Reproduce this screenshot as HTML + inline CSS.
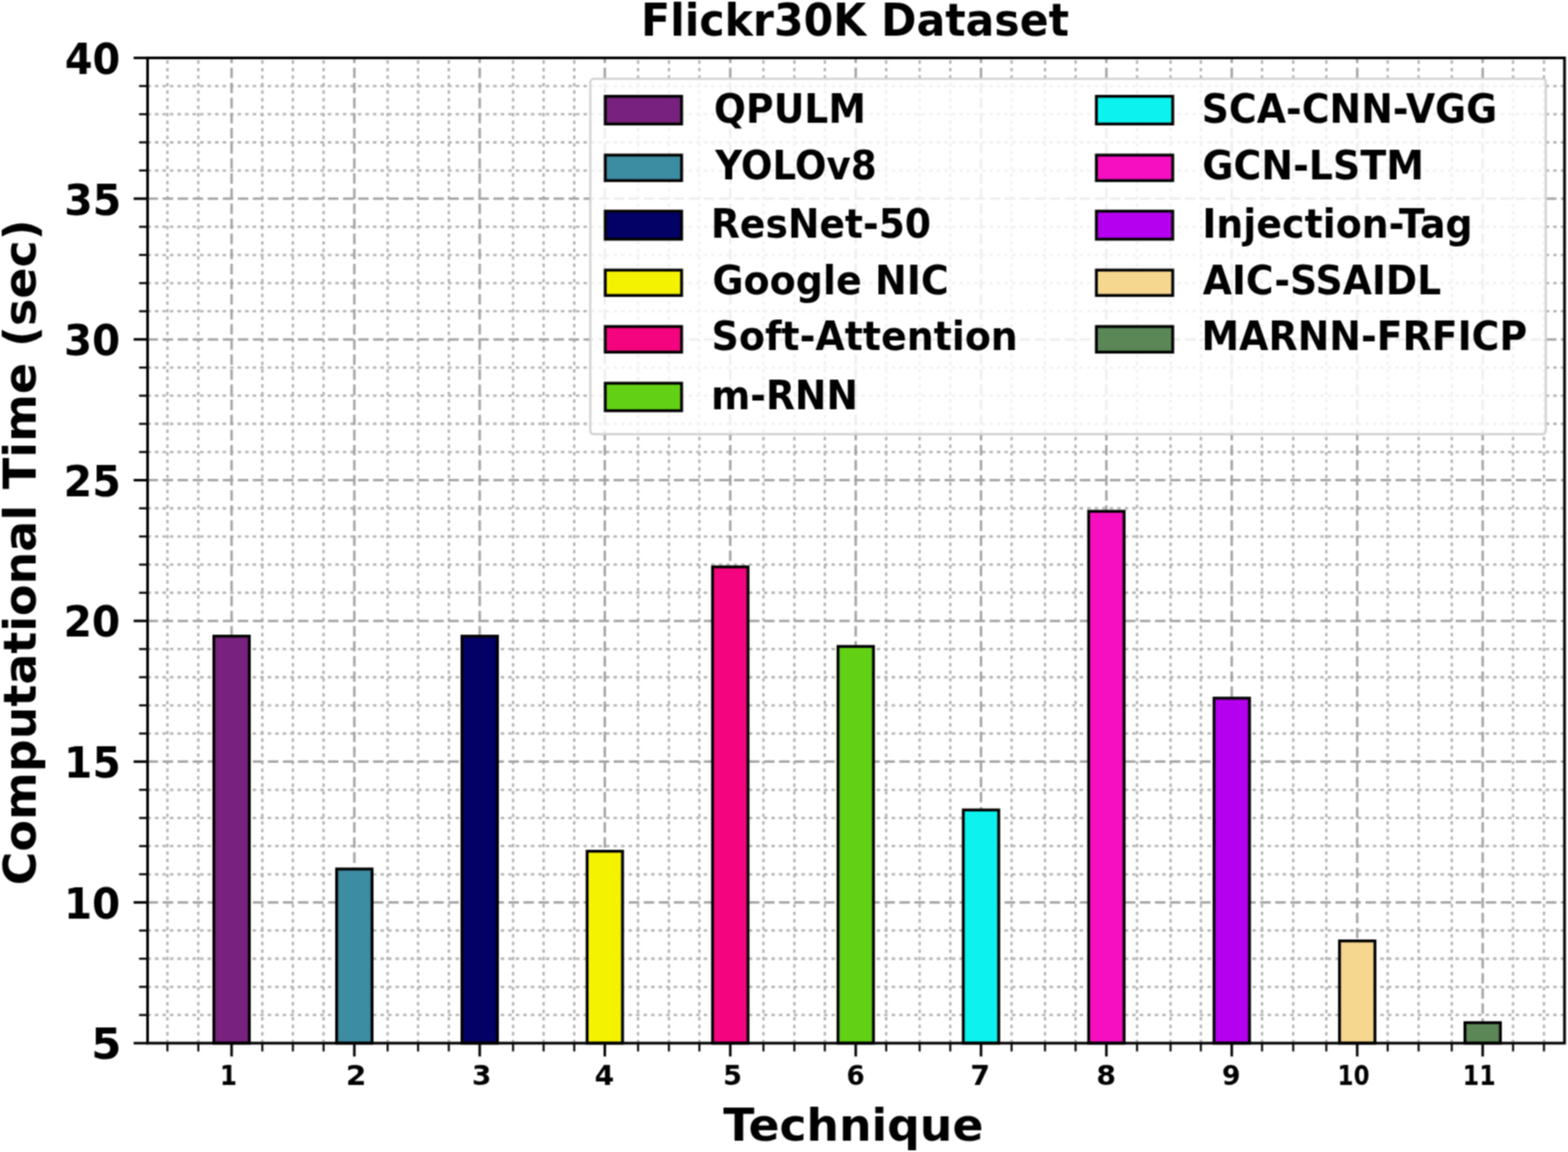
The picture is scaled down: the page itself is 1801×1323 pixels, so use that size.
<!DOCTYPE html>
<html lang="en"><head><meta charset="utf-8"><title>Flickr30K Dataset</title>
<style>
html,body{margin:0;padding:0;background:#fff;}
body{width:1801px;height:1323px;overflow:hidden;}
svg{display:block;}
text{font-family:"DejaVu Sans","Liberation Sans",sans-serif;font-weight:bold;fill:#000;white-space:pre;}
.gmaj{stroke:#a3a3a3;stroke-width:2.8;stroke-dasharray:12.06 5.21;fill:none;}
.gmaj.v{stroke-dasharray:12.06 5.27;stroke-dashoffset:0.87;}
.gmin{stroke:#b5b5b5;stroke-width:2.8;stroke-dasharray:4 4.635;stroke-dashoffset:0.2;fill:none;}
.gmin.v{stroke-dasharray:4 4.652;stroke-dashoffset:0;}
.sp{stroke:#000;stroke-width:3.1;fill:none;stroke-linecap:square;}
.tk{stroke:#000;stroke-width:2.9;fill:none;}
.tm{stroke:#0a0a0a;stroke-width:2.4;fill:none;}
.bar{stroke:#000;stroke-width:3.3;stroke-linejoin:miter;}
</style></head><body>
<svg width="1801" height="1323" viewBox="0 0 1801 1323">
<defs><filter id="soft" x="-2%" y="-2%" width="104%" height="104%" color-interpolation-filters="sRGB"><feConvolveMatrix order="3" kernelMatrix="1 2 1 2 4 2 1 2 1" divisor="16" edgeMode="duplicate" preserveAlpha="true"/></filter></defs>
<rect x="0" y="0" width="1801" height="1323" fill="#fff"/>
<g filter="url(#soft)">
<rect x="-20" y="-20" width="1841" height="1363" fill="#fff"/>
<g id="grid-minor">
<line class="gmin v" x1="192.3" y1="1198" x2="192.3" y2="66.5"/>
<line class="gmin v" x1="227.8" y1="1198" x2="227.8" y2="66.5"/>
<line class="gmin v" x1="301.3" y1="1198" x2="301.3" y2="66.5"/>
<line class="gmin v" x1="336.4" y1="1198" x2="336.4" y2="66.5"/>
<line class="gmin v" x1="371.7" y1="1198" x2="371.7" y2="66.5"/>
<line class="gmin v" x1="445.2" y1="1198" x2="445.2" y2="66.5"/>
<line class="gmin v" x1="480.2" y1="1198" x2="480.2" y2="66.5"/>
<line class="gmin v" x1="515.5" y1="1198" x2="515.5" y2="66.5"/>
<line class="gmin v" x1="589.3" y1="1198" x2="589.3" y2="66.5"/>
<line class="gmin v" x1="624.4" y1="1198" x2="624.4" y2="66.5"/>
<line class="gmin v" x1="659.6" y1="1198" x2="659.6" y2="66.5"/>
<line class="gmin v" x1="732.9" y1="1198" x2="732.9" y2="66.5"/>
<line class="gmin v" x1="768.3" y1="1198" x2="768.3" y2="66.5"/>
<line class="gmin v" x1="803.3" y1="1198" x2="803.3" y2="66.5"/>
<line class="gmin v" x1="876.9" y1="1198" x2="876.9" y2="66.5"/>
<line class="gmin v" x1="912.4" y1="1198" x2="912.4" y2="66.5"/>
<line class="gmin v" x1="947.4" y1="1198" x2="947.4" y2="66.5"/>
<line class="gmin v" x1="1017.9" y1="1198" x2="1017.9" y2="66.5"/>
<line class="gmin v" x1="1056.3" y1="1198" x2="1056.3" y2="66.5"/>
<line class="gmin v" x1="1091.5" y1="1198" x2="1091.5" y2="66.5"/>
<line class="gmin v" x1="1161.9" y1="1198" x2="1161.9" y2="66.5"/>
<line class="gmin v" x1="1200.3" y1="1198" x2="1200.3" y2="66.5"/>
<line class="gmin v" x1="1235.4" y1="1198" x2="1235.4" y2="66.5"/>
<line class="gmin v" x1="1306" y1="1198" x2="1306" y2="66.5"/>
<line class="gmin v" x1="1344.5" y1="1198" x2="1344.5" y2="66.5"/>
<line class="gmin v" x1="1379.3" y1="1198" x2="1379.3" y2="66.5"/>
<line class="gmin v" x1="1449.6" y1="1198" x2="1449.6" y2="66.5"/>
<line class="gmin v" x1="1485.4" y1="1198" x2="1485.4" y2="66.5"/>
<line class="gmin v" x1="1523.4" y1="1198" x2="1523.4" y2="66.5"/>
<line class="gmin v" x1="1593.9" y1="1198" x2="1593.9" y2="66.5"/>
<line class="gmin v" x1="1629.4" y1="1198" x2="1629.4" y2="66.5"/>
<line class="gmin v" x1="1667.5" y1="1198" x2="1667.5" y2="66.5"/>
<line class="gmin v" x1="1737.9" y1="1198" x2="1737.9" y2="66.5"/>
<line class="gmin v" x1="1773.4" y1="1198" x2="1773.4" y2="66.5"/>
<line class="gmin h" x1="169.5" y1="1165.67" x2="1797" y2="1165.67"/>
<line class="gmin h" x1="169.5" y1="1133.34" x2="1797" y2="1133.34"/>
<line class="gmin h" x1="169.5" y1="1101.01" x2="1797" y2="1101.01"/>
<line class="gmin h" x1="169.5" y1="1068.69" x2="1797" y2="1068.69"/>
<line class="gmin h" x1="169.5" y1="1004.03" x2="1797" y2="1004.03"/>
<line class="gmin h" x1="169.5" y1="971.7" x2="1797" y2="971.7"/>
<line class="gmin h" x1="169.5" y1="939.37" x2="1797" y2="939.37"/>
<line class="gmin h" x1="169.5" y1="907.04" x2="1797" y2="907.04"/>
<line class="gmin h" x1="169.5" y1="842.39" x2="1797" y2="842.39"/>
<line class="gmin h" x1="169.5" y1="810.06" x2="1797" y2="810.06"/>
<line class="gmin h" x1="169.5" y1="777.73" x2="1797" y2="777.73"/>
<line class="gmin h" x1="169.5" y1="745.4" x2="1797" y2="745.4"/>
<line class="gmin h" x1="169.5" y1="680.74" x2="1797" y2="680.74"/>
<line class="gmin h" x1="169.5" y1="648.41" x2="1797" y2="648.41"/>
<line class="gmin h" x1="169.5" y1="616.09" x2="1797" y2="616.09"/>
<line class="gmin h" x1="169.5" y1="583.76" x2="1797" y2="583.76"/>
<line class="gmin h" x1="169.5" y1="519.1" x2="1797" y2="519.1"/>
<line class="gmin h" x1="169.5" y1="486.77" x2="1797" y2="486.77"/>
<line class="gmin h" x1="169.5" y1="454.44" x2="1797" y2="454.44"/>
<line class="gmin h" x1="169.5" y1="422.11" x2="1797" y2="422.11"/>
<line class="gmin h" x1="169.5" y1="357.46" x2="1797" y2="357.46"/>
<line class="gmin h" x1="169.5" y1="325.13" x2="1797" y2="325.13"/>
<line class="gmin h" x1="169.5" y1="292.8" x2="1797" y2="292.8"/>
<line class="gmin h" x1="169.5" y1="260.47" x2="1797" y2="260.47"/>
<line class="gmin h" x1="169.5" y1="195.81" x2="1797" y2="195.81"/>
<line class="gmin h" x1="169.5" y1="163.49" x2="1797" y2="163.49"/>
<line class="gmin h" x1="169.5" y1="131.16" x2="1797" y2="131.16"/>
<line class="gmin h" x1="169.5" y1="98.83" x2="1797" y2="98.83"/>
</g>
<g id="grid-major">
<line class="gmaj v" x1="266" y1="1198" x2="266" y2="66.5"/>
<line class="gmaj v" x1="407" y1="1198" x2="407" y2="66.5"/>
<line class="gmaj v" x1="551" y1="1198" x2="551" y2="66.5"/>
<line class="gmaj v" x1="694.7" y1="1198" x2="694.7" y2="66.5"/>
<line class="gmaj v" x1="838.8" y1="1198" x2="838.8" y2="66.5"/>
<line class="gmaj v" x1="982.9" y1="1198" x2="982.9" y2="66.5"/>
<line class="gmaj v" x1="1126.8" y1="1198" x2="1126.8" y2="66.5"/>
<line class="gmaj v" x1="1270.8" y1="1198" x2="1270.8" y2="66.5"/>
<line class="gmaj v" x1="1414.8" y1="1198" x2="1414.8" y2="66.5"/>
<line class="gmaj v" x1="1558.9" y1="1198" x2="1558.9" y2="66.5"/>
<line class="gmaj v" x1="1703" y1="1198" x2="1703" y2="66.5"/>
<line class="gmaj h" x1="169.5" y1="1036.36" x2="1797" y2="1036.36"/>
<line class="gmaj h" x1="169.5" y1="874.71" x2="1797" y2="874.71"/>
<line class="gmaj h" x1="169.5" y1="713.07" x2="1797" y2="713.07"/>
<line class="gmaj h" x1="169.5" y1="551.43" x2="1797" y2="551.43"/>
<line class="gmaj h" x1="169.5" y1="389.79" x2="1797" y2="389.79"/>
<line class="gmaj h" x1="169.5" y1="228.14" x2="1797" y2="228.14"/>
</g>
<g id="bars">
<rect class="bar" x="245.65" y="730.6" width="40.7" height="467.4" fill="#78217e"/>
<rect class="bar" x="386.65" y="998" width="40.7" height="200" fill="#3c8ca2"/>
<rect class="bar" x="530.65" y="730.6" width="40.7" height="467.4" fill="#030066"/>
<rect class="bar" x="674.35" y="977.6" width="40.7" height="220.4" fill="#f5f200"/>
<rect class="bar" x="818.45" y="651" width="40.7" height="547" fill="#f5047f"/>
<rect class="bar" x="962.55" y="742.4" width="40.7" height="455.6" fill="#62d014"/>
<rect class="bar" x="1106.45" y="930.2" width="40.7" height="267.8" fill="#0cf2ee"/>
<rect class="bar" x="1250.45" y="587.2" width="40.7" height="610.8" fill="#f50fc0"/>
<rect class="bar" x="1394.45" y="801.8" width="40.7" height="396.2" fill="#b400ee"/>
<rect class="bar" x="1538.55" y="1080.6" width="40.7" height="117.4" fill="#f5d78f"/>
<rect class="bar" x="1682.65" y="1174.5" width="40.7" height="23.5" fill="#5b8757"/>
</g>
<g id="ticks">
<line class="tm" x1="192.3" y1="1198" x2="192.3" y2="1207.5"/>
<line class="tm" x1="227.8" y1="1198" x2="227.8" y2="1207.5"/>
<line class="tm" x1="301.3" y1="1198" x2="301.3" y2="1207.5"/>
<line class="tm" x1="336.4" y1="1198" x2="336.4" y2="1207.5"/>
<line class="tm" x1="371.7" y1="1198" x2="371.7" y2="1207.5"/>
<line class="tm" x1="445.2" y1="1198" x2="445.2" y2="1207.5"/>
<line class="tm" x1="480.2" y1="1198" x2="480.2" y2="1207.5"/>
<line class="tm" x1="515.5" y1="1198" x2="515.5" y2="1207.5"/>
<line class="tm" x1="589.3" y1="1198" x2="589.3" y2="1207.5"/>
<line class="tm" x1="624.4" y1="1198" x2="624.4" y2="1207.5"/>
<line class="tm" x1="659.6" y1="1198" x2="659.6" y2="1207.5"/>
<line class="tm" x1="732.9" y1="1198" x2="732.9" y2="1207.5"/>
<line class="tm" x1="768.3" y1="1198" x2="768.3" y2="1207.5"/>
<line class="tm" x1="803.3" y1="1198" x2="803.3" y2="1207.5"/>
<line class="tm" x1="876.9" y1="1198" x2="876.9" y2="1207.5"/>
<line class="tm" x1="912.4" y1="1198" x2="912.4" y2="1207.5"/>
<line class="tm" x1="947.4" y1="1198" x2="947.4" y2="1207.5"/>
<line class="tm" x1="1017.9" y1="1198" x2="1017.9" y2="1207.5"/>
<line class="tm" x1="1056.3" y1="1198" x2="1056.3" y2="1207.5"/>
<line class="tm" x1="1091.5" y1="1198" x2="1091.5" y2="1207.5"/>
<line class="tm" x1="1161.9" y1="1198" x2="1161.9" y2="1207.5"/>
<line class="tm" x1="1200.3" y1="1198" x2="1200.3" y2="1207.5"/>
<line class="tm" x1="1235.4" y1="1198" x2="1235.4" y2="1207.5"/>
<line class="tm" x1="1306" y1="1198" x2="1306" y2="1207.5"/>
<line class="tm" x1="1344.5" y1="1198" x2="1344.5" y2="1207.5"/>
<line class="tm" x1="1379.3" y1="1198" x2="1379.3" y2="1207.5"/>
<line class="tm" x1="1449.6" y1="1198" x2="1449.6" y2="1207.5"/>
<line class="tm" x1="1485.4" y1="1198" x2="1485.4" y2="1207.5"/>
<line class="tm" x1="1523.4" y1="1198" x2="1523.4" y2="1207.5"/>
<line class="tm" x1="1593.9" y1="1198" x2="1593.9" y2="1207.5"/>
<line class="tm" x1="1629.4" y1="1198" x2="1629.4" y2="1207.5"/>
<line class="tm" x1="1667.5" y1="1198" x2="1667.5" y2="1207.5"/>
<line class="tm" x1="1737.9" y1="1198" x2="1737.9" y2="1207.5"/>
<line class="tm" x1="1773.4" y1="1198" x2="1773.4" y2="1207.5"/>
<line class="tk" x1="266" y1="1198" x2="266" y2="1213.3"/>
<line class="tk" x1="407" y1="1198" x2="407" y2="1213.3"/>
<line class="tk" x1="551" y1="1198" x2="551" y2="1213.3"/>
<line class="tk" x1="694.7" y1="1198" x2="694.7" y2="1213.3"/>
<line class="tk" x1="838.8" y1="1198" x2="838.8" y2="1213.3"/>
<line class="tk" x1="982.9" y1="1198" x2="982.9" y2="1213.3"/>
<line class="tk" x1="1126.8" y1="1198" x2="1126.8" y2="1213.3"/>
<line class="tk" x1="1270.8" y1="1198" x2="1270.8" y2="1213.3"/>
<line class="tk" x1="1414.8" y1="1198" x2="1414.8" y2="1213.3"/>
<line class="tk" x1="1558.9" y1="1198" x2="1558.9" y2="1213.3"/>
<line class="tk" x1="1703" y1="1198" x2="1703" y2="1213.3"/>
<line class="tk" x1="153.5" y1="1198" x2="169.5" y2="1198"/>
<line class="tm" x1="159.7" y1="1165.67" x2="169.5" y2="1165.67"/>
<line class="tm" x1="159.7" y1="1133.34" x2="169.5" y2="1133.34"/>
<line class="tm" x1="159.7" y1="1101.01" x2="169.5" y2="1101.01"/>
<line class="tm" x1="159.7" y1="1068.69" x2="169.5" y2="1068.69"/>
<line class="tk" x1="153.5" y1="1036.36" x2="169.5" y2="1036.36"/>
<line class="tm" x1="159.7" y1="1004.03" x2="169.5" y2="1004.03"/>
<line class="tm" x1="159.7" y1="971.7" x2="169.5" y2="971.7"/>
<line class="tm" x1="159.7" y1="939.37" x2="169.5" y2="939.37"/>
<line class="tm" x1="159.7" y1="907.04" x2="169.5" y2="907.04"/>
<line class="tk" x1="153.5" y1="874.71" x2="169.5" y2="874.71"/>
<line class="tm" x1="159.7" y1="842.39" x2="169.5" y2="842.39"/>
<line class="tm" x1="159.7" y1="810.06" x2="169.5" y2="810.06"/>
<line class="tm" x1="159.7" y1="777.73" x2="169.5" y2="777.73"/>
<line class="tm" x1="159.7" y1="745.4" x2="169.5" y2="745.4"/>
<line class="tk" x1="153.5" y1="713.07" x2="169.5" y2="713.07"/>
<line class="tm" x1="159.7" y1="680.74" x2="169.5" y2="680.74"/>
<line class="tm" x1="159.7" y1="648.41" x2="169.5" y2="648.41"/>
<line class="tm" x1="159.7" y1="616.09" x2="169.5" y2="616.09"/>
<line class="tm" x1="159.7" y1="583.76" x2="169.5" y2="583.76"/>
<line class="tk" x1="153.5" y1="551.43" x2="169.5" y2="551.43"/>
<line class="tm" x1="159.7" y1="519.1" x2="169.5" y2="519.1"/>
<line class="tm" x1="159.7" y1="486.77" x2="169.5" y2="486.77"/>
<line class="tm" x1="159.7" y1="454.44" x2="169.5" y2="454.44"/>
<line class="tm" x1="159.7" y1="422.11" x2="169.5" y2="422.11"/>
<line class="tk" x1="153.5" y1="389.79" x2="169.5" y2="389.79"/>
<line class="tm" x1="159.7" y1="357.46" x2="169.5" y2="357.46"/>
<line class="tm" x1="159.7" y1="325.13" x2="169.5" y2="325.13"/>
<line class="tm" x1="159.7" y1="292.8" x2="169.5" y2="292.8"/>
<line class="tm" x1="159.7" y1="260.47" x2="169.5" y2="260.47"/>
<line class="tk" x1="153.5" y1="228.14" x2="169.5" y2="228.14"/>
<line class="tm" x1="159.7" y1="195.81" x2="169.5" y2="195.81"/>
<line class="tm" x1="159.7" y1="163.49" x2="169.5" y2="163.49"/>
<line class="tm" x1="159.7" y1="131.16" x2="169.5" y2="131.16"/>
<line class="tm" x1="159.7" y1="98.83" x2="169.5" y2="98.83"/>
<line class="tk" x1="153.5" y1="66.5" x2="169.5" y2="66.5"/>
</g>
<rect class="sp" x="169.5" y="66.5" width="1627.5" height="1131.5"/>
<g id="xticklabels">
<text transform="translate(252.53 1246) scale(0.8885 1)" font-size="32">1</text>
<text transform="translate(397.18 1246) scale(1.0613 1)" font-size="32">2</text>
<text transform="translate(542 1246) scale(1.0114 1)" font-size="32">3</text>
<text transform="translate(683.05 1246) scale(1.0072 1)" font-size="32">4</text>
<text transform="translate(830.45 1246) scale(0.9773 1)" font-size="32">5</text>
<text transform="translate(972.19 1246) scale(0.9429 1)" font-size="32">6</text>
<text transform="translate(1114.48 1246) scale(1.0170 1)" font-size="32">7</text>
<text transform="translate(1259.25 1246) scale(1.0163 1)" font-size="32">8</text>
<text transform="translate(1403.47 1246) scale(0.9591 1)" font-size="32">9</text>
<text transform="translate(1536.36 1246) scale(0.8257 1)" font-size="32">10</text>
<text transform="translate(1680.06 1246) scale(0.8532 1)" font-size="32">11</text>
</g>
<g id="yticklabels">
<text transform="translate(104.75 1216.4) scale(0.9901 1)" font-size="50.5">5</text>
<text transform="translate(73.56 1054.76) scale(0.9193 1)" font-size="50.5">10</text>
<text transform="translate(73.62 893.11) scale(0.9268 1)" font-size="50.5">15</text>
<text transform="translate(72.95 731.47) scale(0.9283 1)" font-size="50.5">20</text>
<text transform="translate(73.02 569.83) scale(0.9358 1)" font-size="50.5">25</text>
<text transform="translate(73.58 408.19) scale(0.9189 1)" font-size="50.5">30</text>
<text transform="translate(73.73 246.54) scale(0.9341 1)" font-size="50.5">35</text>
<text transform="translate(74.44 84.9) scale(0.9063 1)" font-size="50.5">40</text>
</g>
<text transform="translate(736.29 40.8) scale(0.9360 1)" font-size="52.3">Flickr30K Dataset</text>
<text transform="translate(830.84 1310.2) scale(1.0038 1)" font-size="52.3">Technique</text>
<text transform="translate(40.8 1016.74) rotate(-90) scale(1.0087 1)" font-size="52.3">Computational Time (sec)</text>
<g id="legend">
<rect x="678" y="90.5" width="1097.5" height="408.1" rx="4" ry="4" fill="#fff" fill-opacity="0.82" stroke="#cfcfcf" stroke-opacity="0.9" stroke-width="2.7"/>
<rect class="bar" x="695.2" y="110.6" width="87.7" height="31.8" fill="#78217e"/>
<text transform="translate(820.03 141) scale(0.9322 1)" font-size="46.5">QPULM</text>
<rect class="bar" x="695.2" y="178.1" width="87.7" height="29.3" fill="#3c8ca2"/>
<text transform="translate(821.53 205.8) scale(0.9194 1)" font-size="46.5">YOLOv8</text>
<rect class="bar" x="695.2" y="242.5" width="87.7" height="32.2" fill="#030066"/>
<text transform="translate(816.5 273) scale(0.9310 1)" font-size="46.5">ResNet-50</text>
<rect class="bar" x="695.2" y="310.2" width="87.7" height="29.1" fill="#f5f200"/>
<text transform="translate(818.22 337.8) scale(0.9384 1)" font-size="46.5">Google NIC</text>
<rect class="bar" x="695.2" y="375" width="87.7" height="29.4" fill="#f5047f"/>
<text transform="translate(817.35 402) scale(0.9372 1)" font-size="46.5">Soft-Attention</text>
<rect class="bar" x="695.2" y="440.1" width="87.7" height="31.6" fill="#62d014"/>
<text transform="translate(816.72 470) scale(0.9312 1)" font-size="46.5">m-RNN</text>
<rect class="bar" x="1259.3" y="110.6" width="87.7" height="31.8" fill="#0cf2ee"/>
<text transform="translate(1380.26 141) scale(0.9351 1)" font-size="46.5">SCA-CNN-VGG</text>
<rect class="bar" x="1259.3" y="178.1" width="87.7" height="29.3" fill="#f50fc0"/>
<text transform="translate(1381.12 205.8) scale(0.9368 1)" font-size="46.5">GCN-LSTM</text>
<rect class="bar" x="1259.3" y="242.5" width="87.7" height="32.2" fill="#b400ee"/>
<text transform="translate(1380.88 273) scale(0.9372 1)" font-size="46.5">Injection-Tag</text>
<rect class="bar" x="1259.3" y="310.2" width="87.7" height="29.1" fill="#f5d78f"/>
<text transform="translate(1381.48 337.8) scale(0.9313 1)" font-size="46.5">AIC-SSAIDL</text>
<rect class="bar" x="1259.3" y="375" width="87.7" height="29.4" fill="#5b8757"/>
<text transform="translate(1379.98 402) scale(0.9356 1)" font-size="46.5">MARNN-FRFICP</text>
</g>
</g>
</svg>
</body></html>
